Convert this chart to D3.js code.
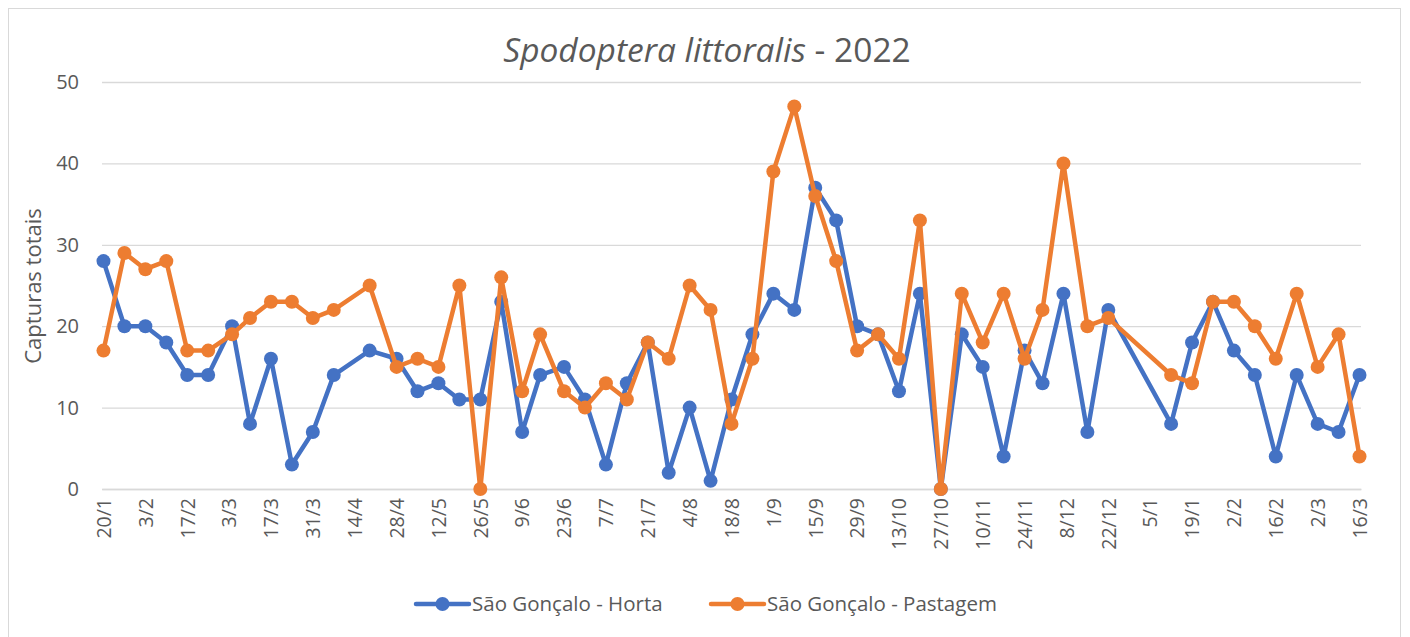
<!DOCTYPE html>
<html>
<head>
<meta charset="utf-8">
<script src="https://cdn.jsdelivr.net/npm/d3@7"></script>
<style>
  html, body { margin: 0; padding: 0; background: #fff; }
  svg { display: block; }
  text { font-family: "Open Sans", "Noto Sans", sans-serif; fill: #595959; }
</style>
</head>
<body>
<div id="chart"></div>
<script>
const dates = [
  "2022-01-20","2022-01-27","2022-02-03","2022-02-10","2022-02-17","2022-02-24","2022-03-04","2022-03-10",
  "2022-03-17","2022-03-24","2022-03-31","2022-04-07","2022-04-19","2022-04-28","2022-05-05","2022-05-12",
  "2022-05-19","2022-05-26","2022-06-02","2022-06-09","2022-06-15","2022-06-23","2022-06-30","2022-07-07",
  "2022-07-14","2022-07-21","2022-07-28","2022-08-04","2022-08-11","2022-08-18","2022-08-25","2022-09-01",
  "2022-09-08","2022-09-15","2022-09-22","2022-09-29","2022-10-06","2022-10-13","2022-10-20","2022-10-27",
  "2022-11-03","2022-11-10","2022-11-17","2022-11-24","2022-11-30","2022-12-07","2022-12-15","2022-12-22",
  "2023-01-12","2023-01-19","2023-01-26","2023-02-02","2023-02-09","2023-02-16","2023-02-23","2023-03-02",
  "2023-03-09","2023-03-16"
];
const horta = [
  28,20,20,18,14,14,20,8,
  16,3,7,14,17,16,12,13,
  11,11,23,7,14,15,11,3,
  13,18,2,10,1,11,19,24,
  22,37,33,20,19,12,24,0,
  19,15,4,17,13,24,7,22,
  8,18,23,17,14,4,14,8,
  7,14
];
const pastagem = [
  17,29,27,28,17,17,19,21,
  23,23,21,22,25,15,16,15,
  25,0,26,12,19,12,10,13,
  11,18,16,25,22,8,16,39,
  47,36,28,17,19,16,33,0,
  24,18,24,16,22,40,20,21,
  14,13,23,23,20,16,24,15,
  19,4
];
const seriesNames = ["São Gonçalo - Horta", "São Gonçalo - Pastagem"];
const seriesColors = ["#4472C4", "#ED7D31"];
const tickDates = [
  "2022-01-20","2022-02-03","2022-02-17","2022-03-03","2022-03-17","2022-03-31","2022-04-14","2022-04-28",
  "2022-05-12","2022-05-26","2022-06-09","2022-06-23","2022-07-07","2022-07-21","2022-08-04","2022-08-18",
  "2022-09-01","2022-09-15","2022-09-29","2022-10-13","2022-10-27","2022-11-10","2022-11-24","2022-12-08",
  "2022-12-22","2023-01-05","2023-01-19","2023-02-02","2023-02-16","2023-03-02","2023-03-16"
];
const yTicks = [0, 10, 20, 30, 40, 50];

const W = 1410, H = 637;
const parse = d3.utcParse("%Y-%m-%d");
const fmt = d3.utcFormat("%-d/%-m");
const pDates = dates.map(parse);
const pTicks = tickDates.map(parse);

const svg = d3.select("#chart").append("svg").attr("width", W).attr("height", H);

// chart border
svg.append("rect").attr("x", 8.5).attr("y", 8.5).attr("width", 1392).attr("height", 660)
  .attr("fill", "#fff").attr("stroke", "#D9D9D9").attr("stroke-width", 1);

const plotL = 102, plotR = 1361, plotT = 82, plotB = 489;
const x = d3.scaleUtc()
  .domain([d3.utcHour.offset(pTicks[0], -12), d3.utcHour.offset(pTicks[pTicks.length - 1], 12)])
  .range([plotL, plotR]);
const y = d3.scaleLinear().domain([0, 50]).range([plotB, plotT]);

// gridlines
const gy = svg.append("g").attr("transform", `translate(${plotL},0)`)
  .call(d3.axisLeft(y).tickValues(yTicks).tickSize(-(plotR - plotL)).tickFormat(""));
gy.select(".domain").remove();
gy.selectAll(".tick line").attr("stroke", "#D9D9D9").attr("stroke-width", 1.3);

// y labels
const yl = svg.append("g").attr("transform", `translate(${plotL},0)`)
  .call(d3.axisLeft(y).tickValues(yTicks).tickSize(0).tickPadding(23));
yl.select(".domain").remove();
yl.selectAll("text").attr("font-size", 20).attr("fill", "#595959")
  .style("font-family", '"Open Sans", sans-serif');

// x axis
const xa = svg.append("g").attr("transform", `translate(0,${plotB})`)
  .call(d3.axisBottom(x).tickValues(pTicks).tickFormat(fmt).tickSize(0));
xa.select(".domain").attr("stroke", "#D9D9D9").attr("stroke-width", 1.3);
xa.selectAll("text")
  .attr("font-size", 19.5)
  .attr("fill", "#595959")
  .style("font-family", '"Open Sans", sans-serif')
  .attr("text-anchor", "end")
  .attr("transform", "rotate(-90)")
  .attr("x", -9).attr("y", 0).attr("dy", "0.35em");

// lines
const series = [horta, pastagem];
series.forEach((vals, si) => {
  const pts = vals.map((v, i) => ({ d: pDates[i], v }));
  const line = d3.line().x(p => x(p.d)).y(p => y(p.v));
  const g = svg.append("g");
  g.append("path").datum(pts).attr("d", line)
    .attr("fill", "none").attr("stroke", seriesColors[si]).attr("stroke-width", 4.5)
    .attr("stroke-linejoin", "round").attr("stroke-linecap", "round");
  g.selectAll("circle").data(pts).join("circle")
    .attr("cx", p => x(p.d)).attr("cy", p => y(p.v)).attr("r", 7)
    .attr("fill", seriesColors[si]);
});

// title
const title = svg.append("text").attr("x", 707).attr("y", 62).attr("text-anchor", "middle")
  .attr("font-size", 33.5).attr("fill", "#595959");
title.append("tspan").attr("font-style", "italic").text("Spodoptera littoralis");
title.append("tspan").text(" - 2022");

// y axis title
svg.append("text").attr("transform", "translate(33,286) rotate(-90)")
  .attr("text-anchor", "middle").attr("dy", "0.35em").attr("font-size", 22).attr("fill", "#595959")
  .text("Capturas totais");

// legend
const legendX = [415, 710];
seriesNames.forEach((name, i) => {
  const g = svg.append("g").attr("transform", `translate(${legendX[i]},604)`);
  g.append("line").attr("x1", 1).attr("x2", 54).attr("y1", 0).attr("y2", 0)
    .attr("stroke", seriesColors[i]).attr("stroke-width", 4.5).attr("stroke-linecap", "round");
  g.append("circle").attr("cx", 27.5).attr("cy", 0).attr("r", 7).attr("fill", seriesColors[i]);
  g.append("text").attr("x", 57).attr("y", 0).attr("dy", "0.35em").attr("font-size", 20.5)
    .attr("fill", "#595959").text(name);
});
</script>
</body>
</html>
